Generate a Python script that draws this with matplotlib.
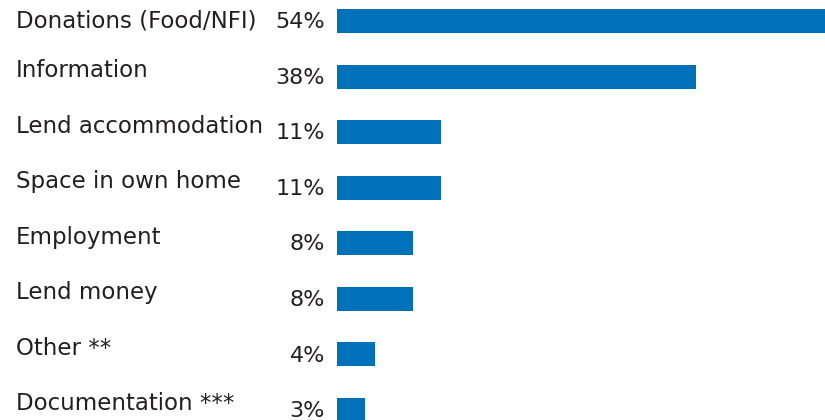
import matplotlib.pyplot as plt
from matplotlib.transforms import blended_transform_factory

categories = ['Donations (Food/NFI)', 'Information', 'Lend accommodation',
              'Space in own home', 'Employment', 'Lend money',
              'Other **', 'Documentation ***']
values = [54, 38, 11, 11, 8, 8, 4, 3]
pct_labels = ['54%', '38%', '11%', '11%', '8%', '8%', '4%', '3%']

bar_color = '#0072bc'
text_color = '#231f20'
plt.rcParams['font.family'] = ['DejaVu Sans']

fig = plt.figure(figsize=(8.25, 4.2), dpi=100)
ax = fig.add_axes([337 / 825, 0, 488 / 825, 1])

pos = list(range(len(categories)))
ax.barh(pos, values, height=0.43, color=bar_color)

# bars run off the right edge, same as the source layout
ax.set_xlim(0, 51.6)
ax.set_ylim(7 + 10 * 7 / 389, -21 * 7 / 389)
ax.axis('off')

trans = blended_transform_factory(fig.transFigure, ax.transData)
for i, (cat, lab) in enumerate(zip(categories, pct_labels)):
    shift = 0 if i == 0 else 0.11
    ax.text(16 / 825, i - shift, cat, transform=trans, ha='left', va='center',
            fontsize=16.5, color=text_color, clip_on=False)
    ax.text(325 / 825, i + 0.02, lab, transform=trans, ha='right', va='center',
            fontsize=16, color=text_color, clip_on=False)

fig.savefig('out.png', dpi=100)
